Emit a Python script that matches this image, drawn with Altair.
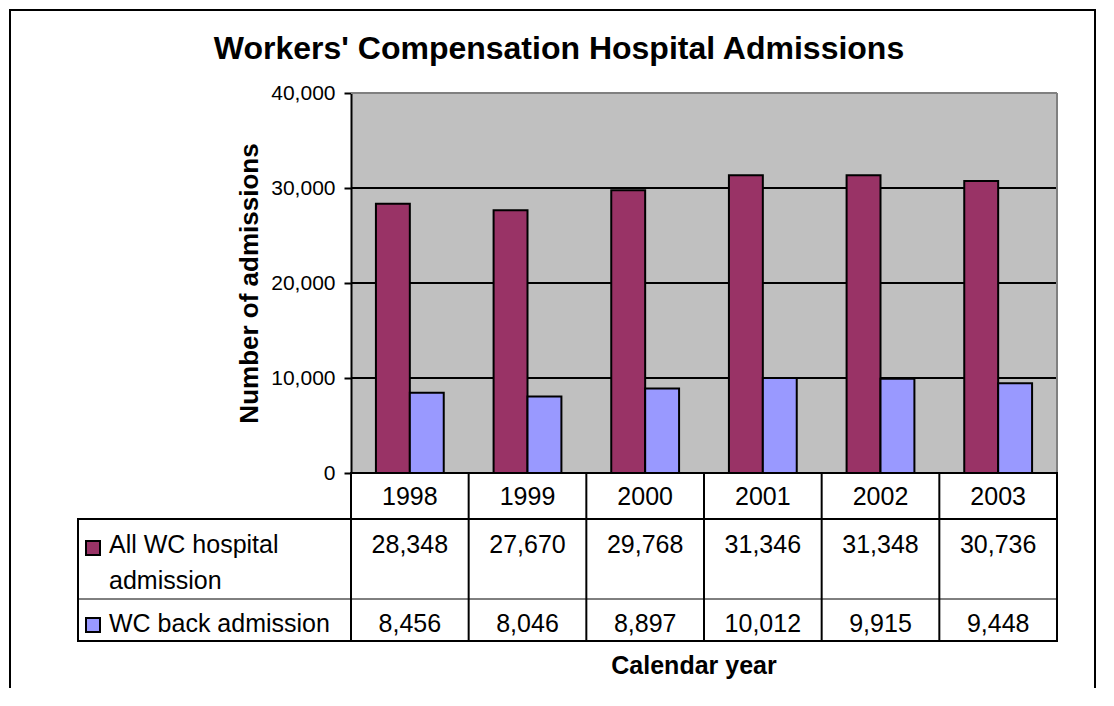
import altair as alt
import pandas as pd

# ---- data ----
years = ["1998", "1999", "2000", "2001", "2002", "2003"]
series = ["All WC hospital admission", "WC back admission"]
header_lines = ["All WC hospital\nadmission", "WC back admission"]
all_wc = [28348, 27670, 29768, 31346, 31348, 30736]
back_wc = [8456, 8046, 8897, 10012, 9915, 9448]
colors = ["#993366", "#9999FF"]
y_ticks = [0, 10000, 20000, 30000, 40000]
grid_vals = [10000, 20000, 30000]
title_text = "Workers' Compensation Hospital Admissions"
y_title = "Number of admissions"
x_title = "Calendar year"

FONT = "Liberation Sans, Arial, sans-serif"
W, H = 706, 380

df = pd.DataFrame({
    "year": years * 2,
    "series": [series[0]] * len(years) + [series[1]] * len(years),
    "value": all_wc + back_wc,
})
one = pd.DataFrame({"k": [0]})
yr = pd.DataFrame({"year": years})

xscale = alt.Scale(domain=years, paddingInner=0, paddingOuter=0)
yscale = alt.Scale(domain=[0, 40000], nice=False)
yaxis = alt.Axis(
    values=y_ticks, labelExpr="format(datum.value, ',')", grid=False,
    labelFont=FONT, labelFontSize=21, labelColor="black", labelPadding=9,
    tickColor="black", tickSize=7, tickWidth=2,
    domainColor="black", domainWidth=2,
    title=y_title, titleFont=FONT, titleFontSize=26, titleFontWeight="bold",
    titleColor="black", titleAngle=-90, titleX=-102, titleY=H / 2,
    titleAlign="center", titleBaseline="middle",
)

def xenc(bp=0.5):
    return alt.X("year:N", scale=xscale, axis=None, bandPosition=bp)

# gridlines
grid = alt.Chart(pd.DataFrame({"value": grid_vals})).mark_rule(
    color="black", strokeWidth=2
).encode(
    y=alt.Y("value:Q", scale=yscale),
    x=alt.value(0), x2=alt.value(W),
)

bars = alt.Chart(df).mark_bar(stroke="black", strokeWidth=2).encode(
    x=alt.X("year:N", scale=xscale, axis=None),
    xOffset=alt.XOffset("series:N", scale=alt.Scale(domain=series, paddingOuter=0.735, paddingInner=0)),
    y=alt.Y("value:Q", scale=yscale, axis=yaxis),
    color=alt.Color("series:N", scale=alt.Scale(domain=series, range=colors), legend=None),
)

# plot-area border (top & right, grey)
border_top = alt.Chart(one).mark_rule(color="#808080", strokeWidth=2).encode(
    x=alt.value(0), x2=alt.value(W), y=alt.value(0))
border_right = alt.Chart(one).mark_rule(color="#808080", strokeWidth=2).encode(
    x=alt.value(W), y=alt.value(0), y2=alt.value(H))

# data table lines
TL = -273
rows_y = [(H, 0, 2), (426, TL, 2), (506, TL, 1), (548, TL, 2)]
hlines = [
    alt.Chart(one).mark_rule(color="black", strokeWidth=sw, strokeCap="square").encode(
        x=alt.value(x0), x2=alt.value(W), y=alt.value(yy))
    for yy, x0, sw in rows_y
]
vcols = alt.Chart(yr).mark_rule(color="black", strokeWidth=2).encode(
    x=xenc(0), y=alt.value(H), y2=alt.value(548))
vright = alt.Chart(one).mark_rule(color="black", strokeWidth=2).encode(
    x=alt.value(W), y=alt.value(H), y2=alt.value(548))
vleft = alt.Chart(one).mark_rule(color="black", strokeWidth=2).encode(
    x=alt.value(TL), y=alt.value(426), y2=alt.value(548))

year_txt = alt.Chart(yr).mark_text(font=FONT, fontSize=25, baseline="alphabetic", color="black").encode(
    x=xenc(), y=alt.value(412), text="year:N")

val1 = alt.Chart(df).transform_filter(alt.datum.series == series[0]).mark_text(
    font=FONT, fontSize=25, baseline="alphabetic", color="black").encode(
    x=xenc(), y=alt.value(460), text=alt.Text("value:Q", format=","))
val2 = alt.Chart(df).transform_filter(alt.datum.series == series[1]).mark_text(
    font=FONT, fontSize=25, baseline="alphabetic", color="black").encode(
    x=xenc(), y=alt.value(539), text=alt.Text("value:Q", format=","))

hdr1 = alt.Chart(one).mark_text(
    font=FONT, fontSize=25, baseline="alphabetic", align="left", color="black",
    lineBreak="\n", lineHeight=36, text=header_lines[0]).encode(
    x=alt.value(-242), y=alt.value(460))
hdr2 = alt.Chart(one).mark_text(
    font=FONT, fontSize=25, baseline="alphabetic", align="left", color="black",
    text=header_lines[1]).encode(x=alt.value(-242), y=alt.value(539))
sw1 = alt.Chart(one).mark_square(size=196, opacity=1, fill=colors[0], stroke="black", strokeWidth=2).encode(
    x=alt.value(-258), y=alt.value(455))
sw2 = alt.Chart(one).mark_square(size=196, opacity=1, fill=colors[1], stroke="black", strokeWidth=2).encode(
    x=alt.value(-258), y=alt.value(532))

title = alt.Chart(one).mark_text(
    font=FONT, fontSize=32, fontWeight="bold", baseline="alphabetic", align="center",
    color="black", text=title_text).encode(x=alt.value(208), y=alt.value(-34))
xt = alt.Chart(one).mark_text(
    font=FONT, fontSize=25, fontWeight="bold", baseline="alphabetic", align="center",
    color="black", text=x_title).encode(x=alt.value(343), y=alt.value(581))

# outer frame (left, top, right)
FL, FR, FT, FB = -341, 744, -83, 594
frame = [
    alt.Chart(one).mark_rule(color="black", strokeWidth=2, strokeCap="square").encode(
        x=alt.value(FL), y=alt.value(FT), y2=alt.value(FB)),
    alt.Chart(one).mark_rule(color="black", strokeWidth=2, strokeCap="square").encode(
        x=alt.value(FL), x2=alt.value(FR), y=alt.value(FT)),
    alt.Chart(one).mark_rule(color="black", strokeWidth=2, strokeCap="square").encode(
        x=alt.value(FR), y=alt.value(FT), y2=alt.value(FB)),
]

chart = alt.layer(
    grid, bars, border_top, border_right, *hlines, vcols, vright, vleft,
    year_txt, val1, val2, hdr1, hdr2, sw1, sw2, title, xt, *frame,
).properties(
    width=W, height=H, padding=0, background="white",
).configure_view(
    fill="#C0C0C0", stroke=None,
).configure_axis(
    labelFont=FONT, labelFontSize=21, labelColor="black",
)

chart.save("out.html", embed_options={"renderer": "svg", "actions": False})
